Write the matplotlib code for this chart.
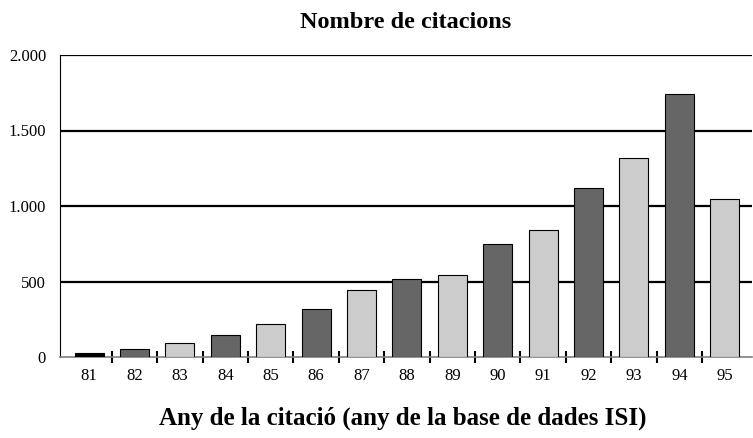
import matplotlib
matplotlib.use("Agg")
import matplotlib.pyplot as plt
import numpy as np

plt.rcParams['font.family'] = ['Liberation Serif', 'DejaVu Serif']

anys = ['81', '82', '83', '84', '85', '86', '87', '88', '89', '90', '91', '92', '93', '94', '95']
citacions = [28, 53, 92, 146, 218, 318, 443, 518, 541, 746, 841, 1117, 1317, 1741, 1046]
colors = ['#000000', '#666666', '#cccccc', '#666666', '#cccccc', '#666666', '#cccccc', '#666666',
          '#cccccc', '#666666', '#cccccc', '#666666', '#cccccc', '#666666', '#cccccc']

fig = plt.figure(figsize=(7.53, 4.38), dpi=100)
ax = fig.add_axes([60 / 753, 1 - 357 / 438, 692 / 753, 302 / 438])

x = np.arange(len(anys))
ax.bar(x, citacions, width=0.64, color=colors, edgecolor='black', linewidth=0.8, zorder=3)

ax.set_ylim(0, 2000)
ax.set_xlim(-0.64, 14.6)
ax.set_yticks([0, 500, 1000, 1500, 2000])
ax.set_yticklabels(['0', '500', '1.000', '1.500', '2.000'], fontsize=12)
for v in [500, 1000, 1500, 2000]:
    ax.axhline(v, color='black', linewidth=1.6, zorder=1)

ax.set_xticks(x)
ax.set_xticklabels(anys, fontsize=12)
ax.set_xticks(np.arange(0.5, 14, 1), minor=True)
ax.tick_params(axis='x', which='major', length=0, pad=8)
ax.tick_params(axis='x', which='minor', direction='inout', length=8, width=1.5, color='black')
ax.tick_params(axis='y', length=0, pad=10)

ax.spines['right'].set_visible(False)
ax.spines['top'].set_visible(False)
ax.spines['left'].set_color('black')
ax.spines['left'].set_linewidth(0.8)
ax.spines['bottom'].set_color('#808080')
ax.spines['bottom'].set_linewidth(1.2)

fig.text(406 / 753, 1 - 23 / 438, 'Nombre de citacions', ha='center', va='center',
         fontsize=17.5, fontweight='bold')
fig.text(403 / 753, 1 - 418 / 438, 'Any de la citació (any de la base de dades ISI)',
         ha='center', va='center', fontsize=18, fontweight='bold')

plt.savefig('out.png', dpi=100)
